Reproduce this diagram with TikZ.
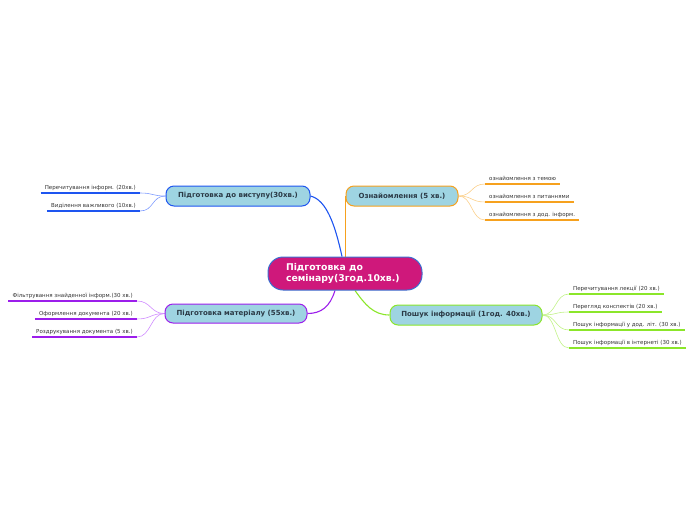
\documentclass[tikz,border=0pt]{standalone}
\usepackage{fontspec}
\setmainfont{DejaVu Sans}
\usetikzlibrary{backgrounds}
\definecolor{boxfill}{HTML}{9ED4E2}
\definecolor{cfill}{HTML}{CF187B}
\definecolor{cborder}{HTML}{3A6FD0}
\definecolor{cblue}{HTML}{1E55F0}
\definecolor{lblue}{HTML}{7F9CFF}
\definecolor{corange}{HTML}{F6A11E}
\definecolor{lorange}{HTML}{FBCF8A}
\definecolor{cpurple}{HTML}{9C1EEB}
\definecolor{lpurple}{HTML}{D08CFF}
\definecolor{cgreen}{HTML}{8BE62A}
\definecolor{lgreen}{HTML}{C2F288}
\definecolor{txt}{HTML}{2B3A46}
\definecolor{subtxt}{HTML}{333333}
\begin{document}
\begin{tikzpicture}[x=1pt,y=-1pt,
  topic/.style={draw=#1, line width=1pt, fill=boxfill, rounded corners=8pt,
    font=\fontsize{7}{8}\selectfont\bfseries, text=txt, inner sep=0pt, minimum height=20pt},
  central/.style={draw=cborder, line width=1pt, fill=cfill, rounded corners=15pt,
    font=\fontsize{9.3}{11.5}\selectfont\bfseries, text=white, align=left, text width=118pt,
    inner ysep=0pt, inner xsep=18pt, minimum width=154pt, minimum height=33pt},
  sub/.style={font=\fontsize{5.5}{6.5}\selectfont, text=subtxt, inner xsep=4pt, inner ysep=2pt,
    text height=4.2pt, text depth=1.3pt},
  uline/.style={draw=#1, line width=2pt},
  mainline/.style={draw=#1, line width=1.1pt},
  subline/.style={draw=#1, line width=0.6pt}]
\useasboundingbox (0,0) rectangle (696,520);

% central
\node[central] (c) at (345,273.5) {Підготовка до\\семінару(3год.10хв.)};

% main topics
\node[topic=cblue, minimum width=144pt] (tb) at (238,196) {Підготовка до виступу(30хв.)};
\node[topic=corange, minimum width=112pt] (to) at (402,196) {Ознайомлення (5 хв.)};
\node[topic=cpurple, minimum width=142pt, minimum height=19pt] (tp) at (236,313.5) {Підготовка матеріалу (55хв.)};
\node[topic=cgreen, minimum width=152pt] (tg) at (466,315) {Пошук інформації (1год. 40хв.)};

% blue subtopics
\node[sub, anchor=south east] (b1) at (140,193) {Перечитування інформ. (20хв.)};
\node[sub, anchor=south east] (b2) at (140,211) {Виділення важливого (10хв.)};

% orange subtopics
\node[sub, anchor=south west] (o1) at (485,184) {ознайомлення з темою};
\node[sub, anchor=south west] (o2) at (485,202) {ознайомлення з питаннями};
\node[sub, anchor=south west] (o3) at (485,220) {ознайомлення з дод. інформ.};

% purple subtopics
\node[sub, anchor=south east] (p1) at (137,301) {Фільтрування знайденної інформ.(30 хв.)};
\node[sub, anchor=south east] (p2) at (137,319) {Оформлення документа (20 хв.)};
\node[sub, anchor=south east] (p3) at (137,337) {Роздрукування документа (5 хв.)};

% green subtopics
\node[sub, anchor=south west] (g1) at (569,294) {Перечитування лекції (20 хв.)};
\node[sub, anchor=south west] (g2) at (569,312) {Перегляд конспектів (20 хв.)};
\node[sub, anchor=south west] (g3) at (569,330) {Пошук інформації у дод. літ. (30 хв.)};
\node[sub, anchor=south west] (g4) at (569,348) {Пошук інформації в інтернеті (30 хв.)};

% underlines
\foreach \s in {b1,b2} \draw[uline=cblue] (\s.south west) -- (\s.south east);
\foreach \s in {o1,o2,o3} \draw[uline=corange] (\s.south west) -- (\s.south east);
\foreach \s in {p1,p2,p3} \draw[uline=cpurple] (\s.south west) -- (\s.south east);
\foreach \s in {g1,g2,g3,g4} \draw[uline=cgreen] (\s.south west) -- (\s.south east);

\begin{scope}[on background layer]
  % main connectors
  \draw[mainline=cblue] (tb.east) .. controls +(16,4) and +(-7,-32) .. ([xshift=-3pt]c.north);
  \draw[mainline=corange] ([xshift=0.5pt]c.north) -- ([xshift=0.5pt]c.north |- to.center);
  \draw[mainline=cpurple] ([xshift=-10pt]c.south) .. controls +(-5,16) and +(14,0) .. (tp.east);
  \draw[mainline=cgreen] ([xshift=10pt]c.south) .. controls +(10,14) and +(-16,0) .. (tg.west);
  % sub connectors
  \foreach \s in {b1,b2} \draw[subline=lblue] (tb.west) .. controls +(-14,0) and +(14,0) .. (\s.south east);
  \foreach \s in {o1,o2,o3} \draw[subline=lorange] (to.east) .. controls +(14,0) and +(-14,0) .. (\s.south west);
  \foreach \s in {p1,p2,p3} \draw[subline=lpurple] (tp.west) .. controls +(-14,0) and +(14,0) .. (\s.south east);
  \foreach \s in {g1,g2,g3,g4} \draw[subline=lgreen] (tg.east) .. controls +(14,0) and +(-14,0) .. (\s.south west);
\end{scope}
\end{tikzpicture}
\end{document}
